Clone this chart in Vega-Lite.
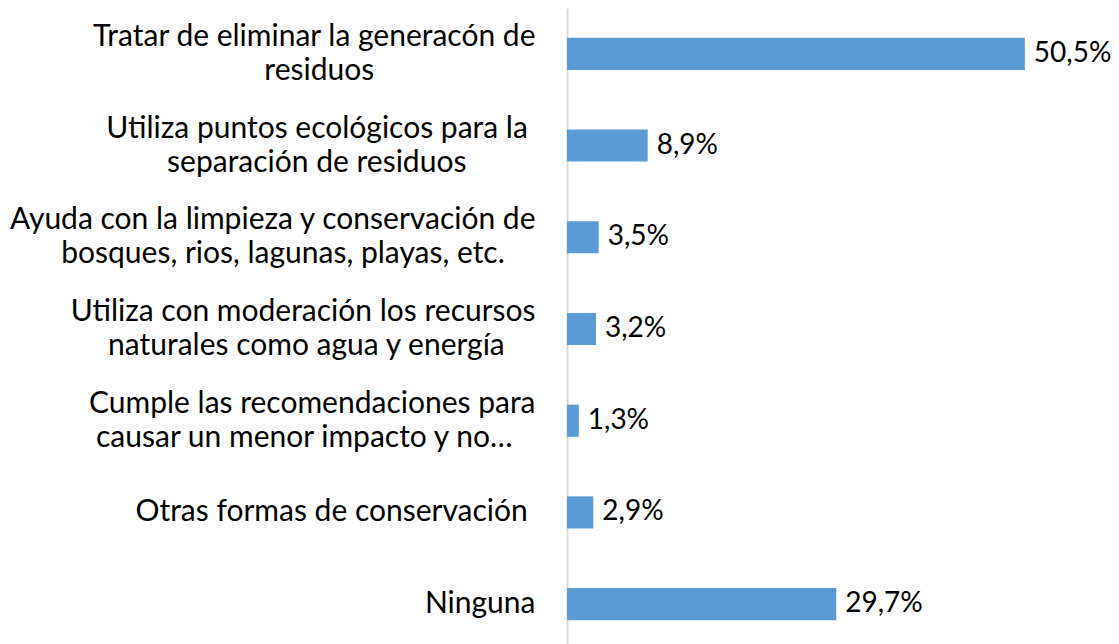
{
  "$schema": "https://vega.github.io/schema/vega-lite/v6.json",
  "autosize": "none",
  "padding": {"left": 567, "top": 8, "right": 8, "bottom": 0},
  "width": 544,
  "height": 642,
  "background": "white",
  "config": {
    "view": {"stroke": null},
    "font": "Lato",
    "locale": {"number": {"decimal": ",", "thousands": ".", "grouping": [3], "currency": ["", " €"]}}
  },
  "data": {
    "values": [
      {"cat": "Tratar de eliminar la generacón de|residuos", "val": 0.505},
      {"cat": "Utiliza puntos ecológicos para la\u00a0|separación de residuos", "val": 0.089},
      {"cat": "Ayuda con la limpieza y conservación de|bosques, rios, lagunas, playas, etc.", "val": 0.035},
      {"cat": "Utiliza con moderación los recursos|naturales como agua y energía", "val": 0.032},
      {"cat": "Cumple las recomendaciones para|causar un menor impacto y no…", "val": 0.013},
      {"cat": "Otras formas de conservación\u00a0\u200b", "val": 0.029},
      {"cat": "Ninguna", "val": 0.297}
    ]
  },
  "encoding": {
    "y": {
      "field": "cat", "type": "nominal", "sort": null,
      "scale": {"paddingInner": 0.65, "paddingOuter": 0.325},
      "axis": {
        "title": null, "ticks": false, "domainColor": "#d9d9d9", "domainWidth": 2,
        "labelExpr": "length(split(datum.value,'|')) < 2 ? datum.value : [pad(split(datum.value,'|')[0], length(split(datum.value,'|')[0]) + max(0, round(0.535 * (length(split(datum.value,'|')[1]) + length(replace(split(datum.value,'|')[1], regexp('[iljtfrí., \u00a0]','g'), '')) - length(split(datum.value,'|')[0]) - length(replace(split(datum.value,'|')[0], regexp('[iljtfrí., \u00a0]','g'), ''))))), '\u00a0') + '\u200b', pad(split(datum.value,'|')[1], length(split(datum.value,'|')[1]) + max(0, round(0.535 * (length(split(datum.value,'|')[0]) + length(replace(split(datum.value,'|')[0], regexp('[iljtfrí., \u00a0]','g'), '')) - length(split(datum.value,'|')[1]) - length(replace(split(datum.value,'|')[1], regexp('[iljtfrí., \u00a0]','g'), ''))))), '\u00a0') + '\u200b']",
        "labelOffset": {"condition": {"test": "indexof(datum.value, '|') >= 0", "value": -17}, "value": 0},
        "labelFontSize": 30, "labelLineHeight": 34,
        "labelColor": "#000000", "labelPadding": 32, "labelLimit": 0, "labelFont": "Lato"
      }
    },
    "x": {
      "field": "val", "type": "quantitative",
      "scale": {"domain": [0, 0.6]},
      "axis": null
    }
  },
  "layer": [
    {"mark": {"type": "bar", "color": "#5B9BD5"}},
    {
      "mark": {"type": "text", "align": "left", "baseline": "middle", "dx": 9, "fontSize": 28, "color": "#000000", "font": "Lato"},
      "encoding": {"text": {"field": "val", "type": "quantitative", "format": ".1%"}}
    }
  ]
}
